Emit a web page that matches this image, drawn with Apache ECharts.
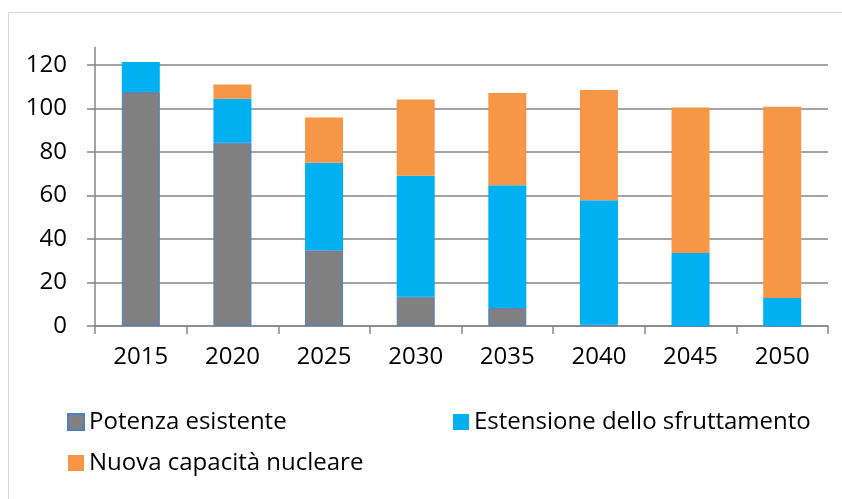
<!DOCTYPE html>
<html>
<head>
<meta charset="utf-8">
<script src="https://cdn.jsdelivr.net/npm/echarts@6/dist/echarts.min.js"></script>
<style>
html,body{margin:0;padding:0;background:#fff;}
#frame{position:absolute;left:8px;top:12px;width:900px;height:600px;border-left:1px solid #d9d9d9;border-top:1px solid #d9d9d9;}
#main{position:absolute;left:0;top:0;width:842px;height:499px;}
</style>
</head>
<body>
<div id="frame"></div>
<div id="main"></div>
<script>
const years = ['2015','2020','2025','2030','2035','2040','2045','2050'];
const potenzaEsistente = [107.6, 84.3, 34.8, 13.5, 8.3, 0.6, 0, 0];
const estensioneSfruttamento = [13.8, 20.2, 40.3, 55.6, 56.4, 57.2, 33.6, 12.9];
const nuovaCapacita = [0, 6.5, 20.8, 35.0, 42.4, 50.7, 66.9, 87.9];
const yTicks = [0, 20, 40, 60, 80, 100, 120];
const seriesNames = ['Potenza esistente', 'Estensione dello sfruttamento', 'Nuova capacità nucleare'];

const FONT = "'Open Sans', sans-serif";
const chart = echarts.init(document.getElementById('main'), null, {renderer: 'canvas'});
const axisColor = '#868686';
chart.setOption({
  animation: false,
  backgroundColor: 'transparent',
  grid: {left: 95, right: 14, top: 47.6, bottom: 173, containLabel: false},
  legend: [
    {
      data: [seriesNames[0], seriesNames[2]],
      orient: 'vertical', left: 62, top: 404,
      itemWidth: 16, itemHeight: 16, itemGap: 15,
      icon: 'rect',
      textStyle: {fontFamily: FONT, fontSize: 24, color: '#000', lineHeight: 26}
    },
    {
      data: [seriesNames[1]],
      orient: 'vertical', left: 448, top: 404,
      itemWidth: 16, itemHeight: 16, itemGap: 15,
      icon: 'rect',
      textStyle: {fontFamily: FONT, fontSize: 24, color: '#000', lineHeight: 26}
    }
  ],
  xAxis: {
    type: 'category',
    data: years,
    boundaryGap: true,
    axisLine: {lineStyle: {color: axisColor, width: 1.5}},
    axisTick: {show: true, length: 8, interval: 0, alignWithLabel: false, lineStyle: {color: axisColor, width: 1.5}},
    axisLabel: {fontFamily: FONT, fontSize: 24, color: '#000', margin: 19, interval: 0}
  },
  yAxis: {
    type: 'value',
    min: 0, max: 128, interval: 20,
    axisLine: {show: true, lineStyle: {color: axisColor, width: 1.5}},
    axisTick: {show: true, length: 8, inside: false, customValues: yTicks, lineStyle: {color: axisColor, width: 1.5}},
    axisLabel: {fontFamily: FONT, fontSize: 24, color: '#000', margin: 28, customValues: yTicks},
    splitLine: {show: true, lineStyle: {color: axisColor, width: 1.5}}
  },
  series: [
    {name: seriesNames[0], type: 'bar', stack: 'tot', data: potenzaEsistente, barWidth: 38,
     itemStyle: {color: '#808080', borderColor: '#4f81bd', borderWidth: 1}},
    {name: seriesNames[1], type: 'bar', stack: 'tot', data: estensioneSfruttamento, barWidth: 38,
     itemStyle: {color: '#00b0f0'}},
    {name: seriesNames[2], type: 'bar', stack: 'tot', data: nuovaCapacita, barWidth: 38,
     itemStyle: {color: '#f79646'}}
  ]
});
</script>
</body>
</html>
